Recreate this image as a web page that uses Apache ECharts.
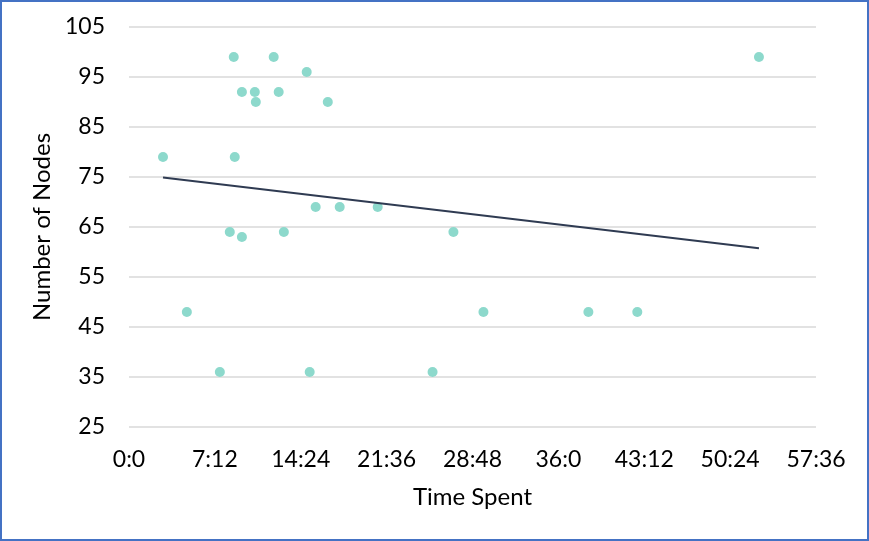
<!DOCTYPE html>
<html>
<head>
<meta charset="utf-8">
<script src="https://cdn.jsdelivr.net/npm/echarts@6/dist/echarts.min.js"></script>
<style>
  html, body { margin: 0; padding: 0; background: #fff; }
  #chart { width: 865px; height: 537px; border: 2px solid #4472c4; }
</style>
</head>
<body>
<div id="chart"></div>
<script>
// time spent, in seconds
var timeSpent = [171, 291, 457, 507, 527, 532, 568, 568, 633, 638, 728, 753, 779,
  894, 909, 939, 1000, 1060, 1251, 1527, 1632, 1783, 2311, 2557, 3169];
var nodeCount = [79, 48, 36, 64, 99, 79, 92, 63, 92, 90, 99, 92, 64,
  96, 36, 69, 90, 69, 69, 36, 64, 48, 48, 48, 99];
var yTicks = [25, 35, 45, 55, 65, 75, 85, 95, 105];

var points = timeSpent.map(function (t, i) { return [t, nodeCount[i]]; });

// linear trendline (least squares), like excel
function trend() {
  var n = points.length, sx = 0, sy = 0, sxx = 0, sxy = 0;
  points.forEach(function (p) { sx += p[0]; sy += p[1]; sxx += p[0] * p[0]; sxy += p[0] * p[1]; });
  var b = (n * sxy - sx * sy) / (n * sxx - sx * sx);
  var a = (sy - b * sx) / n;
  var x0 = Math.min.apply(null, timeSpent), x1 = Math.max.apply(null, timeSpent);
  return [[x0, a + b * x0], [x1, a + b * x1]];
}

function fmtTime(v) {
  return Math.floor(v / 60) + ':' + (v % 60);
}

var chart = echarts.init(document.getElementById('chart'));
chart.setOption({
  animation: false,
  textStyle: { fontFamily: 'Lato' },
  grid: { left: 127, right: 51, top: 25, bottom: 112 },
  xAxis: {
    type: 'value',
    min: 0, max: 3456, interval: 432,
    name: 'Time Spent',
    nameLocation: 'middle',
    nameGap: 58,
    nameTextStyle: { fontSize: 24, color: '#000' },
    axisLine: { show: false },
    axisTick: { show: false },
    axisLabel: { fontSize: 23, color: '#000', margin: 21, formatter: fmtTime },
    splitLine: { show: false }
  },
  yAxis: {
    type: 'value',
    min: yTicks[0], max: yTicks[yTicks.length - 1], interval: 10,
    name: 'Number of Nodes',
    nameLocation: 'middle',
    nameGap: 72,
    nameTextStyle: { fontSize: 24, color: '#000' },
    axisLine: { show: false },
    axisTick: { show: false },
    axisLabel: { fontSize: 23, color: '#000', margin: 24 },
    splitLine: { lineStyle: { color: '#d9d9d9', width: 1.5 } }
  },
  series: [
    {
      type: 'scatter',
      data: points,
      symbolSize: 10,
      itemStyle: { color: '#8dd9cc', opacity: 1 }
    },
    {
      type: 'line',
      data: trend(),
      symbol: 'none',
      lineStyle: { color: '#2f3b52', width: 2 }
    }
  ]
});
</script>
</body>
</html>
